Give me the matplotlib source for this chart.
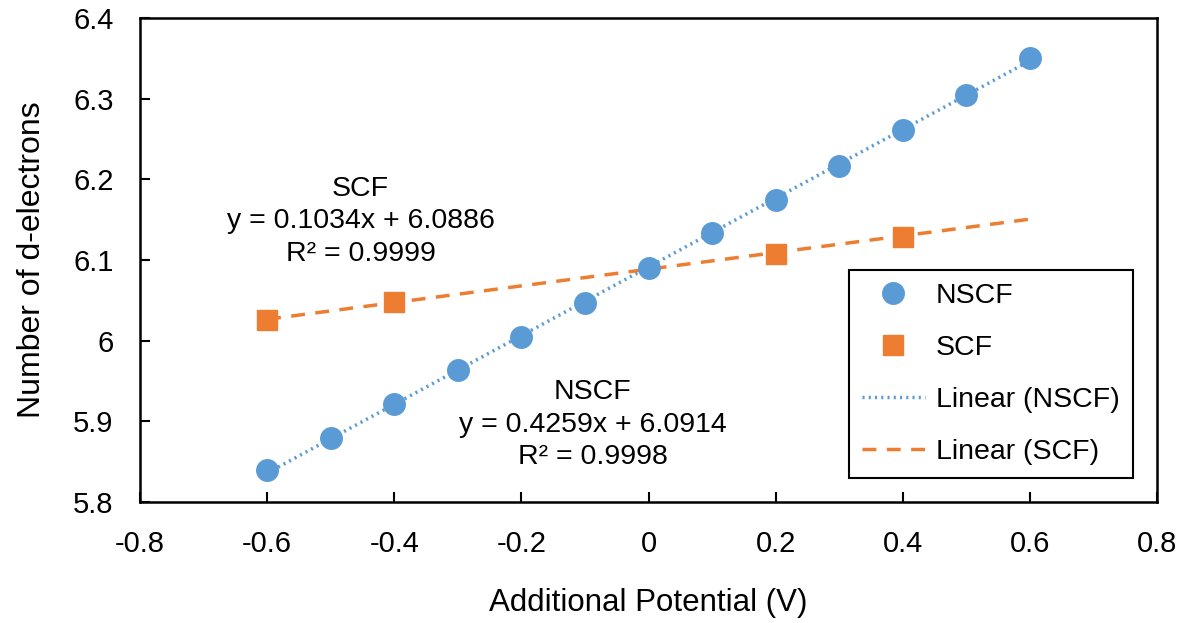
import numpy as np
import matplotlib.pyplot as plt

plt.rcParams['font.family'] = ['Liberation Sans', 'DejaVu Sans']

# NSCF data
x_nscf = [-0.6, -0.5, -0.4, -0.3, -0.2, -0.1, 0.0, 0.1, 0.2, 0.3, 0.4, 0.5, 0.6]
y_nscf = [5.840, 5.879, 5.922, 5.964, 6.005, 6.047, 6.090, 6.133, 6.174, 6.217, 6.261, 6.305, 6.350]

# SCF data
x_scf = [-0.6, -0.4, 0.2, 0.4]
y_scf = [6.026, 6.048, 6.108, 6.129]

# trendline coefficients (from chart)
k_nscf, b_nscf = 0.4259, 6.0914
k_scf, b_scf = 0.1034, 6.0886

blue = '#5B9BD5'
orange = '#ED7D31'

fig = plt.figure(figsize=(11.82, 6.23), dpi=100)
ax = fig.add_axes([0.1184, 0.1942, 0.8605, 0.7769])

xl = np.array([-0.6, 0.6])
ax.plot(x_nscf, y_nscf, 'o', color=blue, markersize=15.5, label='NSCF', zorder=3)
ax.plot(x_scf, y_scf, 's', color=orange, markersize=14, label='SCF', zorder=3)
ax.plot(xl, k_nscf * xl + b_nscf, linestyle=(0, (0.6, 1.2)), color=blue, linewidth=2.5,
        label='Linear (NSCF)', zorder=2)
ax.plot(xl, k_scf * xl + b_scf, linestyle=(0, (4, 3)), color=orange, linewidth=2.5,
        label='Linear (SCF)', zorder=2)

ax.set_xlim(-0.8, 0.8)
ax.set_ylim(5.8, 6.4)
ax.set_xticks(np.arange(-0.8, 0.81, 0.2))
ax.set_xticklabels(['-0.8', '-0.6', '-0.4', '-0.2', '0', '0.2', '0.4', '0.6', '0.8'])
ax.set_yticks(np.arange(5.8, 6.41, 0.1))
ax.set_yticklabels(['5.8', '5.9', '6', '6.1', '6.2', '6.3', '6.4'])
ax.tick_params(direction='in', length=7, width=1.5, labelsize=21)
ax.tick_params(axis='x', pad=20)
ax.tick_params(axis='y', pad=19)
for s in ax.spines.values():
    s.set_linewidth(1.8)

ax.set_xlabel('Additional Potential (V)', fontsize=22.5, labelpad=22)
ax.set_ylabel('Number of d-electrons', fontsize=23, labelpad=19)

ax.text(-0.453, 6.148, 'SCF\ny = 0.1034x + 6.0886\nR² = 0.9999', ha='center', va='center',
        fontsize=20.5, linespacing=1.32)
ax.text(-0.088, 5.896, 'NSCF\ny = 0.4259x + 6.0914\nR² = 0.9998', ha='center', va='center',
        fontsize=20.5, linespacing=1.32)

leg = ax.legend(loc='lower right', bbox_to_anchor=(0.976, 0.0496), borderaxespad=0,
                fontsize=20.5, fancybox=False, edgecolor='black', framealpha=1,
                handlelength=2.2, labelspacing=0.92, borderpad=0.45, handletextpad=0.4)
leg.get_frame().set_linewidth(1.5)

fig.savefig('out.png', dpi=100)
